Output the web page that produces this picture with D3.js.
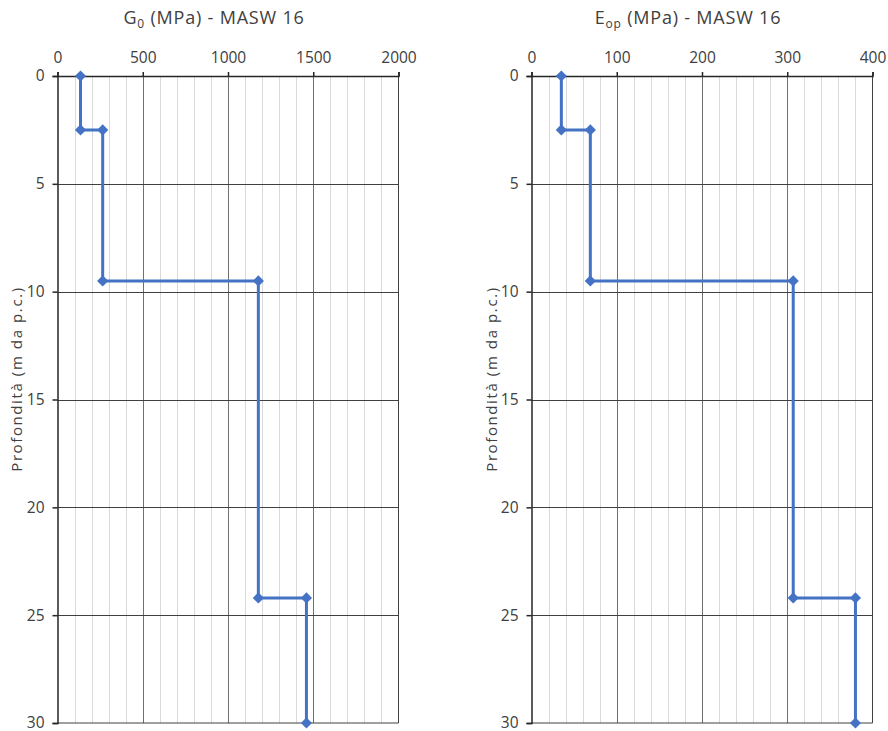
<!DOCTYPE html>
<html><head><meta charset="utf-8">
<script src="https://cdn.jsdelivr.net/npm/d3@7"></script>
<style>body{margin:0;background:#fff}text{font-family:"Open Sans","DejaVu Sans",sans-serif;fill:#404040}</style>
</head><body>
<svg id="c" width="888" height="731"></svg>
<script>
const depth = [0, 2.5, 2.5, 9.5, 9.5, 24.2, 24.2, 30];
const g0 = [135, 135, 265, 265, 1178, 1178, 1460, 1460];
const eop = [35, 35, 69, 69, 307, 307, 380, 380];
const g0Ticks = [0, 500, 1000, 1500, 2000];
const eopTicks = [0, 100, 200, 300, 400];
const depthTicks = [0, 5, 10, 15, 20, 25, 30];
const yLabel = "Profondità (m da p.c.)";

const svg = d3.select("#c");
const plotTop = 76, plotBottom = 723;

function panel(cfg) {
  const x = d3.scaleLinear().domain(cfg.domain).range([cfg.x0, cfg.x1]);
  const y = d3.scaleLinear().domain([0, 30]).range([plotTop, plotBottom]);
  const g = svg.append("g");
  // minor grid
  g.selectAll(".minor").data(d3.range(cfg.domain[0], cfg.domain[1] + 1e-9, cfg.minor).filter(v => cfg.ticks.indexOf(v) < 0))
    .enter().append("line")
    .attr("x1", d => Math.round(x(d)) + 0.5).attr("x2", d => Math.round(x(d)) + 0.5)
    .attr("y1", plotTop).attr("y2", plotBottom).attr("stroke", "#d9d9d9").attr("stroke-width", 1);
  // major vertical
  g.selectAll(".majv").data(cfg.ticks.slice(1, -1)).enter().append("line")
    .attr("x1", d => Math.round(x(d)) + 0.5).attr("x2", d => Math.round(x(d)) + 0.5)
    .attr("y1", plotTop).attr("y2", plotBottom).attr("stroke", "#6f6f6f").attr("stroke-width", 1);
  // major horizontal
  g.selectAll(".majh").data(depthTicks.slice(1, -1)).enter().append("line")
    .attr("x1", cfg.x0).attr("x2", cfg.x1)
    .attr("y1", d => Math.round(y(d)) + 0.5).attr("y2", d => Math.round(y(d)) + 0.5)
    .attr("stroke", "#404040").attr("stroke-width", 1);
  // right & bottom border
  g.append("line").attr("x1", cfg.x1).attr("x2", cfg.x1).attr("y1", plotTop).attr("y2", plotBottom).attr("stroke", "#404040");
  g.append("line").attr("x1", cfg.x0).attr("x2", cfg.x1).attr("y1", plotBottom).attr("y2", plotBottom).attr("stroke", "#404040");
  // axes
  const xa = g.append("g").attr("transform", `translate(0,${plotTop})`)
    .call(d3.axisTop(x).tickValues(cfg.ticks).tickFormat(d3.format("d")).tickSize(4).tickPadding(9));
  const ya = g.append("g").attr("transform", `translate(${cfg.x0},0)`)
    .call(d3.axisLeft(y).tickValues(depthTicks).tickFormat(d3.format("d")).tickSize(5).tickPadding(8));
  [xa, ya].forEach(a => {
    a.selectAll("path").attr("stroke", "#262626").attr("stroke-width", 1.5);
    a.selectAll("line").attr("stroke", "#262626").attr("stroke-width", 1.5);
    a.selectAll("text").style("font-size", "15.5px").attr("fill", "#404040").style("font-family", '"Open Sans","DejaVu Sans",sans-serif');
  });
  // line
  const pts = cfg.values.map((v, i) => [v, depth[i]]);
  g.append("path").datum(pts)
    .attr("d", d3.line().x(d => x(d[0])).y(d => y(d[1])))
    .attr("fill", "none").attr("stroke", "#4472C4").attr("stroke-width", 3);
  g.selectAll(".pt").data(pts).enter().append("path")
    .attr("transform", d => `translate(${x(d[0])},${y(d[1])})`)
    .attr("d", d3.symbol(d3.symbolDiamond2, 80))
    .attr("fill", "#4472C4");
  // title
  const t = g.append("text").attr("x", cfg.titleX).attr("y", 24).attr("text-anchor", "middle")
    .style("font-size", "18px").style("letter-spacing", "0.8px");
  t.append("tspan").text(cfg.title[0]);
  t.append("tspan").text(cfg.title[1]).attr("dy", 4).style("font-size", "12px");
  t.append("tspan").text(cfg.title[2]).attr("dy", -4);
  // y label
  g.append("text").attr("transform", `translate(${cfg.ylx},379) rotate(-90)`)
    .attr("text-anchor", "middle").attr("dy", "0.35em").style("font-size", "15px")
    .style("letter-spacing", "1.6px").text(yLabel);
}

panel({domain: [0, 2000], x0: 57.5, x1: 398.5, ticks: g0Ticks, minor: 100, values: g0,
  title: ["G", "0", " (MPa) - MASW 16"], titleX: 214, ylx: 17});
panel({domain: [0, 400], x0: 531.5, x1: 872.5, ticks: eopTicks, minor: 20, values: eop,
  title: ["E", "op", " (MPa) - MASW 16"], titleX: 688, ylx: 492});
</script>
</body></html>
